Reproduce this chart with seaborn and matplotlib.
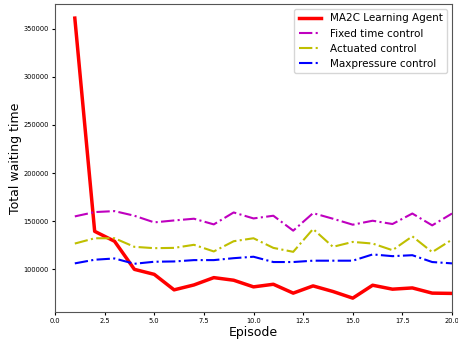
import matplotlib
matplotlib.use("Agg")
import matplotlib.pyplot as plt
import seaborn as sns
import pandas as pd

episodes = list(range(1, 21))
ma2c = [361000, 139500, 129200, 100000, 94800, 78700, 83800, 91400, 88700, 81800,
        84500, 75300, 82800, 77000, 70100, 83500, 79400, 80700, 75300, 75000]
fixed = [155000, 159500, 160500, 155700, 148800, 150800, 152600, 146700, 159100, 152900,
         155700, 140200, 158400, 152600, 146400, 150500, 147100, 158000, 145700, 158000]
actuated = [126800, 132300, 132300, 123400, 122000, 122300, 125500, 118600, 129200, 132300,
            122300, 118200, 141900, 123400, 128500, 126800, 119900, 134300, 117900, 130900]
maxpressure = [106200, 110000, 111300, 105800, 107900, 108200, 109600, 109600, 111600, 113100,
               107600, 107600, 109000, 109000, 109000, 115500, 113700, 114700, 107600, 106200]

series = [
    ("MA2C Learning Agent", ma2c, "red", "-", 2.5),
    ("Fixed time control", fixed, "m", "-.", 1.5),
    ("Actuated control", actuated, "y", "-.", 1.5),
    ("Maxpressure control", maxpressure, "b", "-.", 1.5),
]

fig, ax = plt.subplots(figsize=(4.58, 3.43), dpi=100)
for name, vals, col, ls, lw in series:
    df = pd.DataFrame({"Episode": episodes, "v": vals})
    sns.lineplot(data=df, x="Episode", y="v", ax=ax, color=col, linestyle=ls,
                 linewidth=lw, label=name)

ax.set_xlim(0, 20)
ax.set_xlabel("Episode", fontsize=9, labelpad=1)
ax.set_ylabel("Total waiting time", fontsize=9, labelpad=1)
ax.tick_params(labelsize=4.8, length=2.5, pad=2)
for s in ax.spines.values():
    s.set_color("#555555")
ax.legend(loc="upper right", fontsize=7.5, handlelength=2.2)
fig.subplots_adjust(left=0.12, right=0.987, top=0.988, bottom=0.09)
fig.savefig("out.png", dpi=100)
